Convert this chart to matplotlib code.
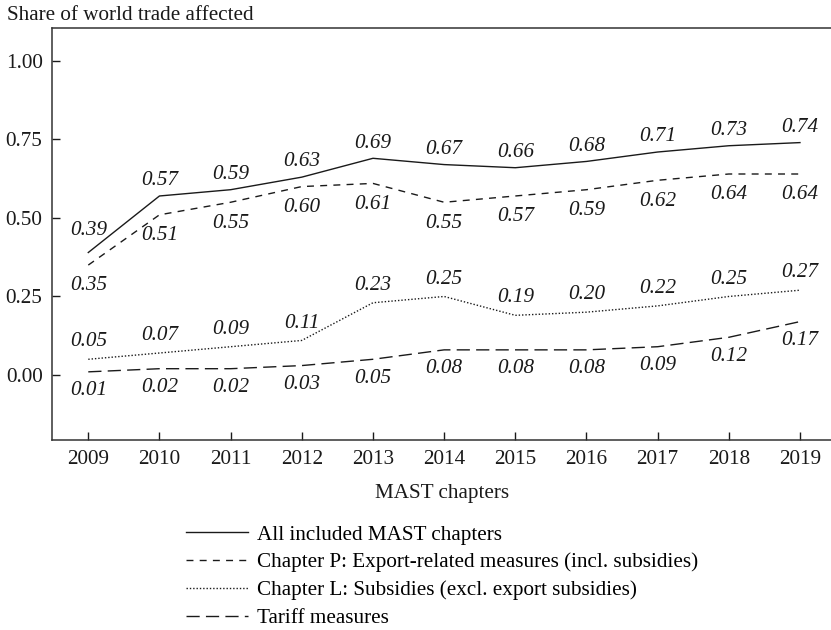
import matplotlib
matplotlib.use('Agg')
import matplotlib.pyplot as plt

# Data
years = [2009, 2010, 2011, 2012, 2013, 2014, 2015, 2016, 2017, 2018, 2019]
all_mast = [0.39, 0.57, 0.59, 0.63, 0.69, 0.67, 0.66, 0.68, 0.71, 0.73, 0.74]
chapter_p = [0.35, 0.51, 0.55, 0.60, 0.61, 0.55, 0.57, 0.59, 0.62, 0.64, 0.64]
chapter_l = [0.05, 0.07, 0.09, 0.11, 0.23, 0.25, 0.19, 0.20, 0.22, 0.25, 0.27]
tariff = [0.01, 0.02, 0.02, 0.03, 0.05, 0.08, 0.08, 0.08, 0.09, 0.12, 0.17]

series_names = [
    'All included MAST chapters',
    'Chapter P: Export-related measures (incl. subsidies)',
    'Chapter L: Subsidies (excl. export subsidies)',
    'Tariff measures',
]
yticks = [0.0, 0.25, 0.5, 0.75, 1.0]

plt.rcParams['font.family'] = ['Liberation Serif', 'DejaVu Serif']
plt.rcParams['lines.scale_dashes'] = False
fs = 15.2
ink = '#1a1a1a'

fig = plt.figure(figsize=(8.31, 6.3), dpi=100)
ax = fig.add_axes([0.0629, 0.3016, 0.9371, 0.6540])

lw = 1.0
ax.plot(years, all_mast, color=ink, lw=lw, linestyle='-', label=series_names[0])
ax.plot(years, chapter_p, color=ink, lw=lw, linestyle=(0, (5, 4.5)), label=series_names[1])
ax.plot(years, chapter_l, color=ink, lw=lw, linestyle=(0, (1, 1.4)), label=series_names[2])
ax.plot(years, tariff, color=ink, lw=lw, linestyle=(0, (9.5, 4.5)), label=series_names[3])

# value labels: above for All and L, below for P and Tariff
def put_labels(vals, dy):
    for i, (x, v) in enumerate(zip(years, vals)):
        off = dy
        if i == 0 and vals is all_mast:
            off = dy + 5
        ax.annotate(f'{v:.2f}', (x, v), xytext=(0, off), textcoords='offset points',
                    ha='center', va='center', fontsize=fs, style='italic', color=ink)

put_labels(all_mast, 11)
put_labels(chapter_p, -15)
put_labels(chapter_l, 12.5)
put_labels(tariff, -13.5)

ax.set_xlim(2008.494, 2019.436)
ax.set_ylim(-0.207, 1.105)
ax.set_xticks(years)
ax.set_yticks(yticks)
ax.set_yticklabels([f'{t:.2f}' for t in yticks])
ax.tick_params(direction='in', length=6, width=1, labelsize=fs, colors=ink, pad=7)
ax.spines['right'].set_visible(False)
for s in ['left', 'top', 'bottom']:
    ax.spines[s].set_linewidth(1.1)
    ax.spines[s].set_color('#333333')

ax.set_xlabel('MAST chapters', fontsize=fs, color=ink, labelpad=11)
fig.text(0.008, 0.975, 'Share of world trade affected', fontsize=fs, color=ink,
         ha='left', va='center')

leg = fig.legend(loc='upper left', bbox_to_anchor=(0.2238, 0.167), frameon=False,
                 fontsize=fs, handlelength=2.95, handletextpad=0.42,
                 labelspacing=0.38, borderaxespad=0, borderpad=0)

fig.savefig('out.png', dpi=100)
